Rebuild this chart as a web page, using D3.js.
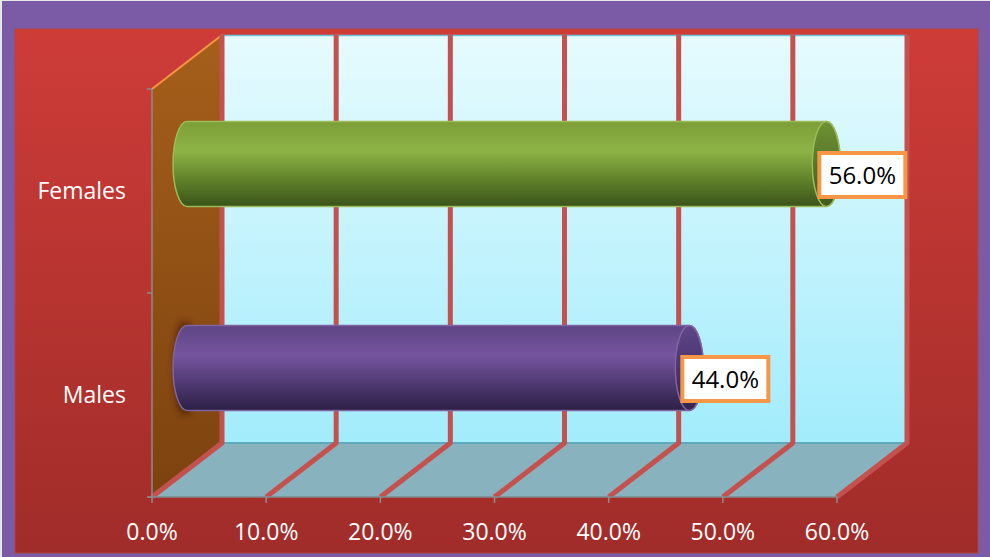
<!DOCTYPE html>
<html>
<head>
<meta charset="utf-8">
<script src="https://cdnjs.cloudflare.com/ajax/libs/d3/7.8.5/d3.min.js"></script>
<style>
  html, body { margin: 0; padding: 0; background: #e9e9e9; }
  svg { display: block; }
  text { font-family: "Open Sans", sans-serif; }
</style>
</head>
<body>
<div id="chart"></div>
<script>
var categories = ["Females", "Males"];
var values = [56.0, 44.0];
var ticks = [0, 10, 20, 30, 40, 50, 60];

var width = 990, height = 557;
// 3d offset of the back plane
var dx = 70, dy = -54;

var svg = d3.select("#chart").append("svg")
  .attr("width", width)
  .attr("height", height);

var defs = svg.append("defs");

function vgrad(id, stops) {
  var g = defs.append("linearGradient").attr("id", id)
    .attr("x1", 0).attr("y1", 0).attr("x2", 0).attr("y2", 1);
  stops.forEach(function(s) {
    g.append("stop").attr("offset", s[0]).attr("stop-color", s[1]);
  });
}
vgrad("redBg", [[0, "#ce3c38"], [1, "#a02c29"]]);
vgrad("backWall", [[0, "#e6fbfe"], [1, "#a2ecfc"]]);
vgrad("leftWall", [[0, "#a65f1b"], [1, "#7c420f"]]);
vgrad("cyl-Females", [[0, "#7c9e38"], [0.35, "#8db345"], [0.7, "#5e7f28"], [1, "#3a531a"]]);
vgrad("cyl-Males", [[0, "#5e4584"], [0.35, "#75559f"], [0.7, "#4d3770"], [1, "#2c2043"]]);
vgrad("cap-Females", [[0, "#6f9234"], [1, "#3f5a1e"]]);
vgrad("cap-Males", [[0, "#60468a"], [1, "#33244c"]]);

defs.append("filter").attr("id", "blur")
  .attr("x", "-100%").attr("y", "-50%").attr("width", "300%").attr("height", "200%")
  .append("feGaussianBlur").attr("stdDeviation", 4);

var barColor = { Females: "#9bbb59", Males: "#8064a2" };

// background
svg.append("rect").attr("x", 0).attr("y", 0).attr("width", width).attr("height", height).attr("fill", "#e9e9e9");
svg.append("rect").attr("x", 2).attr("y", 1).attr("width", width - 2).attr("height", height - 1).attr("fill", "#7b5aa6");
svg.append("rect").attr("x", 15).attr("y", 29).attr("width", 963).attr("height", 524)
  .attr("fill", "url(#redBg)").attr("stroke", "#b2423f").attr("stroke-width", 1);

var x = d3.scaleLinear().domain([0, 60]).range([152, 837]);
var y = d3.scaleBand().domain(categories).range([89, 497]);

var x0 = x(0), x1 = x(60), yTop = y.range()[0], yBot = y.range()[1];

// back wall
svg.append("rect")
  .attr("x", x0 + dx).attr("y", yTop + dy)
  .attr("width", x1 - x0).attr("height", yBot - yTop)
  .attr("fill", "url(#backWall)");
svg.append("line")
  .attr("x1", x0 + dx).attr("x2", x1 + dx).attr("y1", yTop + dy + 0.5).attr("y2", yTop + dy + 0.5)
  .attr("stroke", "#6cc6da").attr("stroke-width", 1.5);

// left wall
svg.append("path")
  .attr("d", "M" + x0 + "," + yTop + "L" + (x0 + dx) + "," + (yTop + dy) +
    "L" + (x0 + dx) + "," + (yBot + dy) + "L" + x0 + "," + yBot + "Z")
  .attr("fill", "url(#leftWall)");
svg.append("line")
  .attr("x1", x0).attr("y1", yTop).attr("x2", x0 + dx).attr("y2", yTop + dy)
  .attr("stroke", "#f79646").attr("stroke-width", 2);

// floor
svg.append("path")
  .attr("d", "M" + x0 + "," + yBot + "L" + (x0 + dx) + "," + (yBot + dy) +
    "L" + (x1 + dx) + "," + (yBot + dy) + "L" + x1 + "," + yBot + "Z")
  .attr("fill", "#88b2be");
svg.append("line")
  .attr("x1", x0 + dx).attr("x2", x1 + dx).attr("y1", yBot + dy).attr("y2", yBot + dy)
  .attr("stroke", "#5eaabd").attr("stroke-width", 2);

// gridlines: back wall vertical + floor diagonal
svg.selectAll("path.grid")
  .data(ticks)
  .enter().append("path")
  .attr("class", "grid")
  .attr("d", function(d) {
    return "M" + (x(d) + dx) + "," + (yTop + dy) + "L" + (x(d) + dx) + "," + (yBot + dy) +
      "L" + x(d) + "," + yBot;
  })
  .attr("fill", "none")
  .attr("stroke", "#c4514e")
  .attr("stroke-width", 5)
  .attr("stroke-linejoin", "round");

// axes
svg.append("line").attr("x1", x0 - 4).attr("x2", x1).attr("y1", yBot).attr("y2", yBot)
  .attr("stroke", "#7f8a8c").attr("stroke-width", 1.5);
svg.append("line").attr("x1", x0).attr("x2", x0).attr("y1", yTop).attr("y2", yBot)
  .attr("stroke", "#8c8c8c").attr("stroke-width", 1.5);
svg.selectAll("line.xtick").data(ticks).enter().append("line")
  .attr("class", "xtick")
  .attr("x1", function(d) { return x(d); }).attr("x2", function(d) { return x(d); })
  .attr("y1", yBot).attr("y2", yBot + 6)
  .attr("stroke", "#8c8c8c").attr("stroke-width", 1.5);
var yTicks = [yTop].concat(categories.map(function(c) { return y(c) + y.bandwidth(); }));
svg.selectAll("line.ytick").data(yTicks).enter().append("line")
  .attr("class", "ytick")
  .attr("x1", x0 - 5).attr("x2", x0)
  .attr("y1", function(d) { return d; }).attr("y2", function(d) { return d; })
  .attr("stroke", "#8c8c8c").attr("stroke-width", 1.5);

// tick labels
svg.selectAll("text.xlab").data(ticks).enter().append("text")
  .attr("class", "xlab")
  .attr("x", function(d) { return x(d); })
  .attr("y", 540)
  .attr("text-anchor", "middle")
  .attr("fill", "#ffffff")
  .attr("font-size", 23)
  .text(function(d) { return d.toFixed(1) + "%"; });

svg.selectAll("text.ylab").data(categories).enter().append("text")
  .attr("class", "ylab")
  .attr("x", 126)
  .attr("y", function(d) { return y(d) + y.bandwidth() / 2 + 8; })
  .attr("text-anchor", "end")
  .attr("fill", "#ffffff")
  .attr("font-size", 23)
  .text(function(d) { return d; });

// cylinders at mid depth
var rx = 14, barH = 85;
var bars = categories.map(function(c, i) {
  var cy = y(c) + y.bandwidth() / 2 + dy / 2;
  return {
    cat: c, value: values[i],
    xs: x(0) + dx / 2, xe: x(values[i]) + dx / 2,
    cy: cy, top: cy - barH / 2, bot: cy + barH / 2
  };
});

var g = svg.selectAll("g.bar").data(bars).enter().append("g").attr("class", "bar");

g.filter(function(d) { return d.cat === "Males"; })
  .append("ellipse")
  .attr("cx", function(d) { return d.xs - 2; })
  .attr("cy", function(d) { return d.cy; })
  .attr("rx", 9).attr("ry", 46)
  .attr("fill", "#2a1003").attr("opacity", 0.85)
  .attr("filter", "url(#blur)");

g.append("path")
  .attr("d", function(d) {
    var ry = barH / 2;
    return "M" + d.xs + "," + d.top + "L" + d.xe + "," + d.top +
      "A" + rx + "," + ry + " 0 0 1 " + d.xe + "," + d.bot +
      "L" + d.xs + "," + d.bot +
      "A" + rx + "," + ry + " 0 0 1 " + d.xs + "," + d.top + "Z";
  })
  .attr("fill", function(d) { return "url(#cyl-" + d.cat + ")"; })
  .attr("stroke", function(d) { return barColor[d.cat]; })
  .attr("stroke-width", 1.5);

g.append("ellipse")
  .attr("cx", function(d) { return d.xe; })
  .attr("cy", function(d) { return d.cy; })
  .attr("rx", rx).attr("ry", barH / 2)
  .attr("fill", function(d) { return "url(#cap-" + d.cat + ")"; })
  .attr("stroke", function(d) { return barColor[d.cat]; })
  .attr("stroke-width", 1.5);

// data labels
var boxW = 86, boxH = 44;
g.append("rect")
  .attr("x", function(d) { return d.xe - 7; })
  .attr("y", function(d) { return d.cy + 11 - boxH / 2; })
  .attr("width", boxW).attr("height", boxH)
  .attr("fill", "#ffffff")
  .attr("stroke", "#f79646").attr("stroke-width", 4);

g.append("text")
  .attr("x", function(d) { return d.xe - 7 + boxW / 2; })
  .attr("y", function(d) { return d.cy + 11 + 8.5; })
  .attr("text-anchor", "middle")
  .attr("fill", "#000000")
  .attr("font-size", 24)
  .text(function(d) { return d.value.toFixed(1) + "%"; });
</script>
</body>
</html>
